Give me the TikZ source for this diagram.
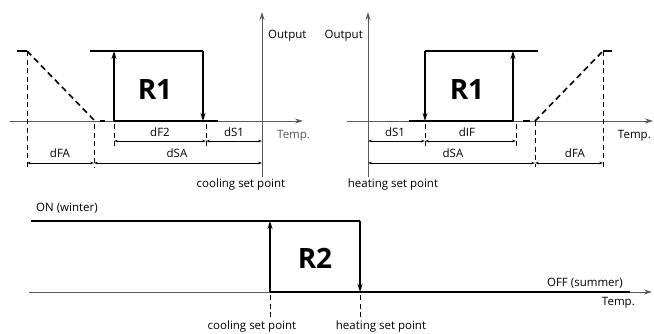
\documentclass[tikz,border=0pt]{standalone}
\usepackage{fontspec}
\setmainfont{Open Sans}
\usetikzlibrary{arrows.meta}
\definecolor{axisgray}{gray}{0.35}
\begin{document}
\begin{tikzpicture}[x=1pt,y=-1pt,
  axis/.style={draw=axisgray,line width=0.8pt},
  axisarrow/.style={axis,-{Stealth[length=8pt,width=5pt]}},
  thick line/.style={draw=black,line width=2pt},
  thickarrow/.style={draw=black,line width=1.6pt,-{Stealth[length=8pt,width=5pt]}},
  ramp/.style={draw=black,line width=1.6pt,dash pattern=on 6pt off 4pt},
  tick/.style={draw=black,line width=0.7pt,dash pattern=on 5pt off 3.5pt},
  dim/.style={draw=black,line width=0.6pt,{Stealth[length=4pt,width=2.6pt]}-{Stealth[length=4pt,width=2.6pt]}},
  lab/.style={font=\fontsize{11.5}{13}\selectfont,inner sep=0pt},
  big/.style={font=\fontsize{28}{30}\selectfont\bfseries,inner sep=0pt}]
\useasboundingbox (0,0) rectangle (654,333);

% ---------------- left diagram (cooling) ----------------
\coordinate (LaxS) at (10,121);
\coordinate (LaxE) at (303,121);
\coordinate (LvB) at (262,177);
\coordinate (LvT) at (262,12);
\draw[axisarrow] (LaxS) -- (LaxE);
\draw[axisarrow] (LvB) -- (LvT);
\node[lab,anchor=west] (LOut) at (268,36) {Output};
\node[lab,anchor=west,text=axisgray] (LTemp) at (277,136) {Temp.};
% ramp
\coordinate (Lr0) at (17,51);
\coordinate (Lr1) at (27,51);
\coordinate (Lr2) at (95,121);
\coordinate (Lr3) at (100,121);
\coordinate (Lr4) at (105,121);
\draw[thick line] (Lr0) -- (Lr1);
\draw[ramp] (Lr1) -- (Lr2);
\draw[thick line,line width=1.6pt] (Lr3) -- (Lr4);
\coordinate (Lt1b) at (27,167);
\coordinate (Lt2a) at (94,124);
\coordinate (Lt2b) at (94,167);
\draw[tick] (Lr1) -- (Lt1b);
\draw[tick] (Lt2a) -- (Lt2b);
% R1 box
\coordinate (Lb0) at (90,51);
\coordinate (Lb1) at (114,51);
\coordinate (Lb2) at (203,51);
\coordinate (Lb3) at (114,121);
\coordinate (Lb4) at (203,121);
\coordinate (Lb5) at (218,121);
\draw[thick line] (Lb0) -- (Lb2);
\draw[thick line] (Lb3) -- (Lb5);
\draw[thickarrow] (Lb3) -- (Lb1);
\draw[thickarrow] (Lb2) -- (Lb4);
\node[big] (LR1) at (155,90) {R1};
% ticks
\coordinate (Lk1a) at (114,124);
\coordinate (Lk1b) at (114,146);
\coordinate (Lk2a) at (206,124);
\coordinate (Lk2b) at (206,146);
\draw[tick] (Lk1a) -- (Lk1b);
\draw[tick] (Lk2a) -- (Lk2b);
% dimensions
\coordinate (Ld1) at (114,141);
\coordinate (Ld2) at (206,141);
\coordinate (Ld3) at (262,141);
\coordinate (Ld4) at (27,163);
\coordinate (Ld5) at (94,163);
\coordinate (Ld6) at (262,163);
\draw[dim] (Ld1) -- (Ld2);
\draw[dim] (Ld2) -- (Ld3);
\draw[dim] (Ld4) -- (Ld5);
\draw[dim] (Ld5) -- (Ld6);
\node[lab] (LdF2) at (160,132) {dF2};
\node[lab] (LdS1) at (234,132) {dS1};
\node[lab] (LdFA) at (60,153) {dFA};
\node[lab] (LdSA) at (177,153) {dSA};
\node[lab] (LcSP) at (241,185) {cooling set point};

% ---------------- right diagram (heating) ----------------
\coordinate (RaxS) at (347,121);
\coordinate (RaxE) at (653,121);
\coordinate (RvB) at (368,177);
\coordinate (RvT) at (368,12);
\draw[axisarrow] (RaxS) -- (RaxE);
\draw[axisarrow] (RvB) -- (RvT);
\node[lab,anchor=east] (ROut) at (363,36) {Output};
\node[lab,anchor=east] (RTemp) at (651,136) {Temp.};
% R1 box
\coordinate (Rb0) at (425,51);
\coordinate (Rb1) at (513,51);
\coordinate (Rb2) at (538,51);
\coordinate (Rb3) at (409,121);
\coordinate (Rb4) at (425,121);
\coordinate (Rb5) at (513,121);
\draw[thick line] (Rb0) -- (Rb2);
\draw[thick line] (Rb3) -- (Rb5);
\draw[thickarrow] (Rb0) -- (Rb4);
\draw[thickarrow] (Rb5) -- (Rb1);
\node[big] (RR1) at (467,90) {R1};
% ramp
\coordinate (Rr0) at (523,121);
\coordinate (Rr1) at (530,121);
\coordinate (Rr2) at (535,121);
\coordinate (Rr3) at (603,51);
\coordinate (Rr4) at (612,51);
\draw[thick line,line width=1.6pt] (Rr0) -- (Rr1);
\draw[ramp] (Rr2) -- (Rr3);
\draw[thick line] (Rr3) -- (Rr4);
% ticks
\coordinate (Rk1a) at (425,124);
\coordinate (Rk1b) at (425,146);
\coordinate (Rk2a) at (516,124);
\coordinate (Rk2b) at (516,146);
\coordinate (Rk3b) at (535,167);
\coordinate (Rk4b) at (603,167);
\draw[tick] (Rk1a) -- (Rk1b);
\draw[tick] (Rk2a) -- (Rk2b);
\draw[tick] (Rr2) -- (Rk3b);
\draw[tick] (Rr3) -- (Rk4b);
% dimensions
\coordinate (Rd1) at (368,141);
\coordinate (Rd2) at (425,141);
\coordinate (Rd3) at (516,141);
\coordinate (Rd4) at (368,163);
\coordinate (Rd5) at (535,163);
\coordinate (Rd6) at (603,163);
\draw[dim] (Rd1) -- (Rd2);
\draw[dim] (Rd2) -- (Rd3);
\draw[dim] (Rd4) -- (Rd5);
\draw[dim] (Rd5) -- (Rd6);
\node[lab] (RdS1) at (395,132) {dS1};
\node[lab] (RdIF) at (467,132) {dIF};
\node[lab] (RdSA) at (453,153) {dSA};
\node[lab] (RdFA) at (575,153) {dFA};
\node[lab] (RhSP) at (393,185) {heating set point};

% ---------------- bottom diagram (R2) ----------------
\coordinate (BaxS) at (29,292);
\coordinate (BaxE) at (652,292);
\draw[axisarrow] (BaxS) -- (BaxE);
\coordinate (Bt0) at (31,221);
\coordinate (Bt1) at (270,221);
\coordinate (Bt2) at (360,221);
\coordinate (Bb1) at (270,292);
\coordinate (Bb2) at (360,292);
\coordinate (Bb3) at (630,292);
\draw[thick line] (Bt0) -- (Bt2);
\draw[thick line] (Bb1) -- (Bb3);
\draw[thickarrow] (Bb1) -- (Bt1);
\draw[thickarrow] (Bt2) -- (Bb2);
\node[big] (BR2) at (315,258) {R2};
\coordinate (Bk1a) at (270,295);
\coordinate (Bk1b) at (270,318);
\coordinate (Bk2a) at (360,295);
\coordinate (Bk2b) at (360,318);
\draw[tick] (Bk1a) -- (Bk1b);
\draw[tick] (Bk2a) -- (Bk2b);
\node[lab,anchor=west] (BOn) at (36,208) {ON (winter)};
\node[lab,anchor=east] (BOff) at (623,283) {OFF (summer)};
\node[lab,anchor=east] (BTemp) at (635,303) {Temp.};
\node[lab] (BcSP) at (252,327) {cooling set point};
\node[lab] (BhSP) at (381,327) {heating set point};
\end{tikzpicture}
\end{document}
